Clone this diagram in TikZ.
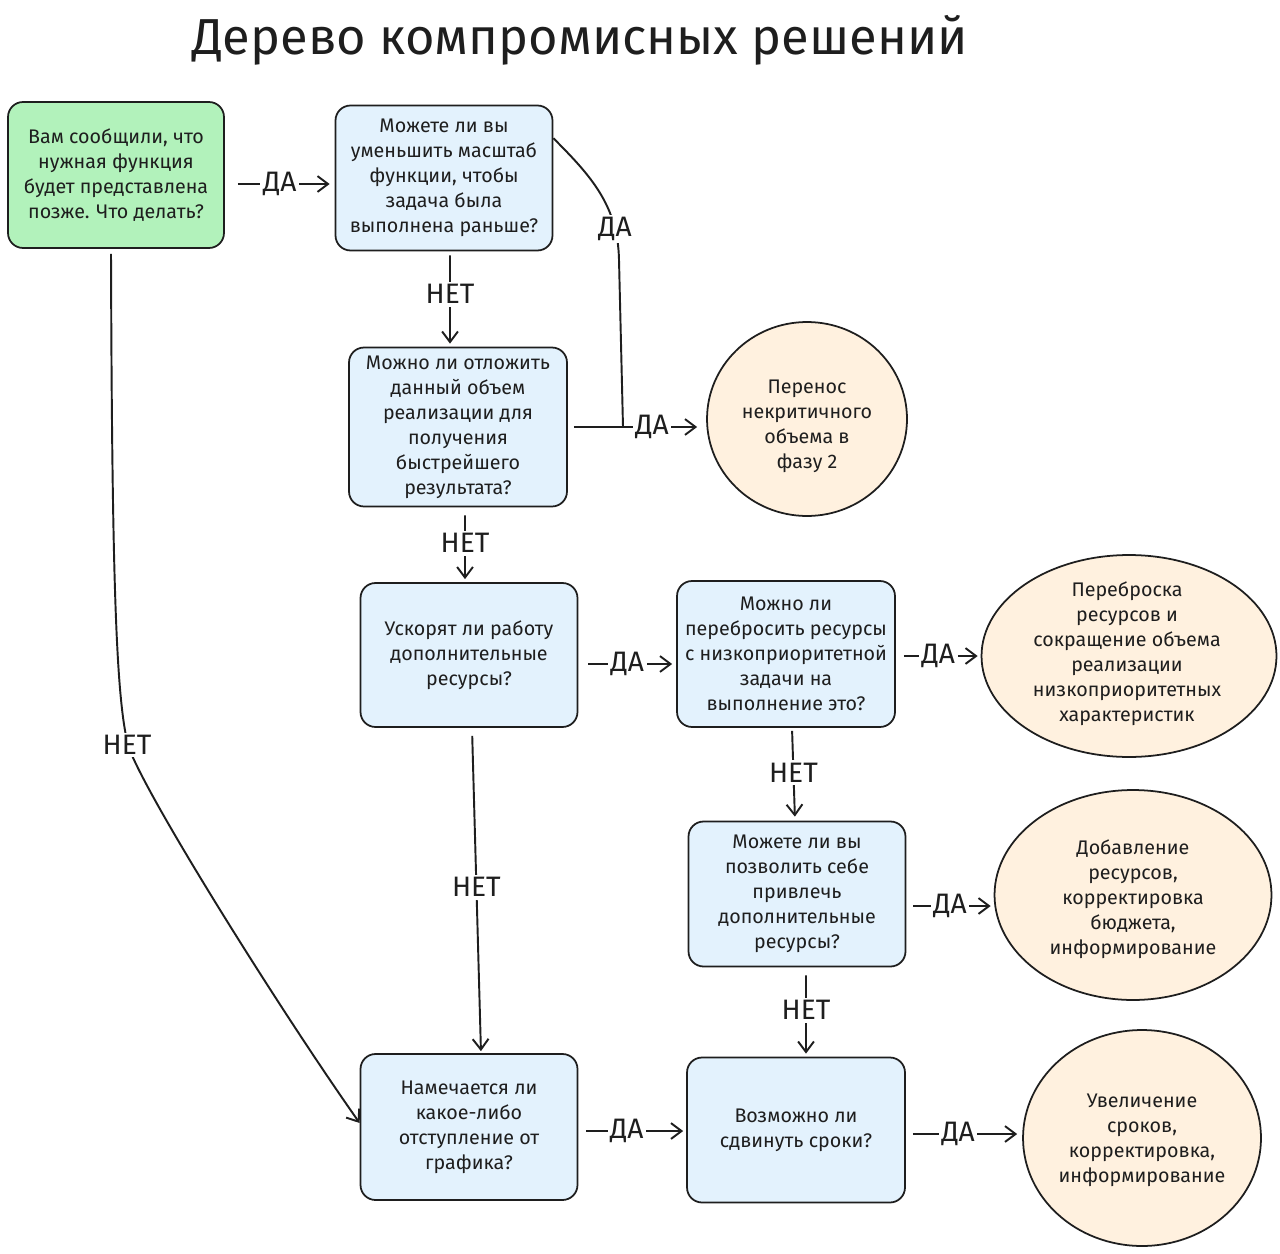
\documentclass[tikz,border=0pt]{standalone}
\usepackage{fontspec}
\setmainfont{Fira Sans}
\usetikzlibrary{shapes.geometric,arrows.meta}
\definecolor{boxblue}{HTML}{E3F2FD}
\definecolor{boxgreen}{HTML}{B2F2BB}
\definecolor{peach}{HTML}{FFF1DF}
\definecolor{ink}{HTML}{1E1E1E}
\tikzset{
  txt/.style={align=center,text=ink,font=\fontsize{11.2}{14.2}\selectfont},
  qbox/.style={txt,draw=ink,line width=1pt,rounded corners=0.3cm,fill=boxblue,inner sep=1pt},
  outc/.style={draw=ink,line width=1pt,ellipse,fill=peach,inner sep=0pt},
  arr/.style={draw=ink,line width=1.1pt,-{Straight Barb[length=6pt,width=9pt]}},
  plain/.style={draw=ink,line width=1.1pt},
  lbl/.style={fill=white,text=ink,inner sep=1.5pt,font=\fontsize{16}{18}\selectfont}
}
\begin{document}
\begin{tikzpicture}[x=0.02cm,y=-0.02cm]
\useasboundingbox[fill=white] (0,0) rectangle (1280,1253);
\node[text=ink,font=\fontsize{28.8}{34}\selectfont] (title) at (580,40) {Дерево компромисных решений};

\node[qbox,fill=boxgreen,minimum width=4.32cm,minimum height=2.92cm] (b1) at (116,175)
  {Вам сообщили, что\\нужная функция\\будет представлена\\позже. Что делать?};
\node[qbox,minimum width=4.34cm,minimum height=2.9cm] (b2) at (444,178)
  {Можете ли вы\\уменьшить масштаб\\функции, чтобы\\задача была\\выполнена раньше?};
\node[qbox,minimum width=4.36cm,minimum height=3.18cm] (b3) at (458,427)
  {Можно ли отложить\\данный объем\\реализации для\\получения\\быстрейшего\\результата?};
\node[outc,minimum width=4.0cm,minimum height=3.88cm] (c4) at (807,419) {};
\node[txt] (t4) at (807,426) {Перенос\\некритичного\\объема в\\фазу 2};
\node[qbox,minimum width=4.34cm,minimum height=2.88cm] (b5) at (469,655)
  {Ускорят ли работу\\дополнительные\\ресурсы?};
\node[qbox,minimum width=4.36cm,minimum height=2.92cm] (b6) at (786,654)
  {Можно ли\\перебросить ресурсы\\с низкоприоритетной\\задачи на\\выполнение это?};
\node[outc,minimum width=5.9cm,minimum height=4.04cm] (c7) at (1129,656) {};
\node[txt] (t7) at (1127,654)
  {Переброска\\ресурсов и\\сокращение объема\\реализации\\низкоприоритетных\\характеристик};
\node[qbox,minimum width=4.34cm,minimum height=2.9cm] (b8) at (797,894)
  {Можете ли вы\\позволить себе\\привлечь\\дополнительные\\ресурсы?};
\node[outc,minimum width=5.54cm,minimum height=4.2cm] (c9) at (1133,895) {};
\node[txt] (t9) at (1133,899)
  {Добавление\\ресурсов,\\корректировка\\бюджета,\\информирование};
\node[qbox,minimum width=4.34cm,minimum height=2.92cm] (b10) at (469,1127)
  {Намечается ли\\какое-либо\\отступление от\\графика?};
\node[qbox,minimum width=4.36cm,minimum height=2.9cm] (b11) at (796,1130)
  {Возможно ли\\сдвинуть сроки?};
\node[outc,minimum width=4.76cm,minimum height=4.32cm] (c12) at (1142,1138) {};
\node[txt] (t12) at (1142,1140)
  {Увеличение\\сроков,\\корректировка,\\информирование};

% connectors
\draw[arr,shorten <=0.26cm,shorten >=0.1cm] (b1.east |- 0,184) -- node[lbl]{ДА} (b2.west |- 0,184);
\draw[arr,shorten <=0.08cm,shorten >=0.06cm] ([xshift=0.12cm]b2.south) -- node[lbl,pos=0.45]{НЕТ} ([xshift=-0.16cm]b3.north);
\coordinate (j) at (623,427);
\draw[plain] (b2.20) .. controls (590,175) and (618,205) .. (619,260) -- (j);
\node[lbl] (l2) at (615,229) {ДА};
\draw[arr,shorten <=0.12cm,shorten >=0.18cm] (b3.east |- j) -- (j) -- node[lbl,pos=0.35]{ДА} (c4.west |- j);
\draw[arr,shorten <=0.16cm,shorten >=0.06cm] ([xshift=0.14cm]b3.south) -- node[lbl,pos=0.48]{НЕТ} ([xshift=-0.08cm]b5.north);
\draw[arr,shorten <=0.2cm,shorten >=0.08cm] (b5.east |- 0,664) -- node[lbl]{ДА} (b6.west |- 0,664);
\draw[arr,shorten <=0.16cm,shorten >=0.06cm] (b6.east |- 0,656) -- node[lbl]{ДА} (c7.west |- 0,656);
\draw[arr,shorten <=0.06cm,shorten >=0.08cm] ([xshift=0.12cm]b6.south) -- node[lbl,pos=0.48]{НЕТ} ([xshift=-0.04cm]b8.north);
\draw[arr,shorten <=0.14cm,shorten >=0.06cm] (b8.east |- 0,906) -- node[lbl]{ДА} (c9.west |- 0,906);
\draw[arr,shorten <=0.16cm,shorten >=0.06cm] ([xshift=0.18cm]b8.south) -- node[lbl,pos=0.48]{НЕТ} ([xshift=0.2cm]b11.north);
\draw[arr,shorten <=0.16cm,shorten >=0.04cm] ([xshift=0.06cm]b5.south) -- node[lbl,pos=0.49]{НЕТ} ([xshift=0.24cm]b10.north);
\draw[arr,shorten <=0.16cm,shorten >=0.06cm] (b10.east |- 0,1131) -- node[lbl,pos=0.45]{ДА} (b11.west |- 0,1131);
\draw[arr,shorten <=0.14cm,shorten >=0.1cm] (b11.east |- 0,1134) -- node[lbl,pos=0.45]{ДА} (c12.west |- 0,1134);
\draw[arr,shorten <=0.1cm] ([xshift=-0.1cm]b1.south) .. controls (112,600) and (117,700) .. (128,745)
  .. controls (142,790) and (280,1010) .. ([yshift=0.08cm]b10.west);
\node[lbl] (l1) at (127,745) {НЕТ};
\end{tikzpicture}
\end{document}
